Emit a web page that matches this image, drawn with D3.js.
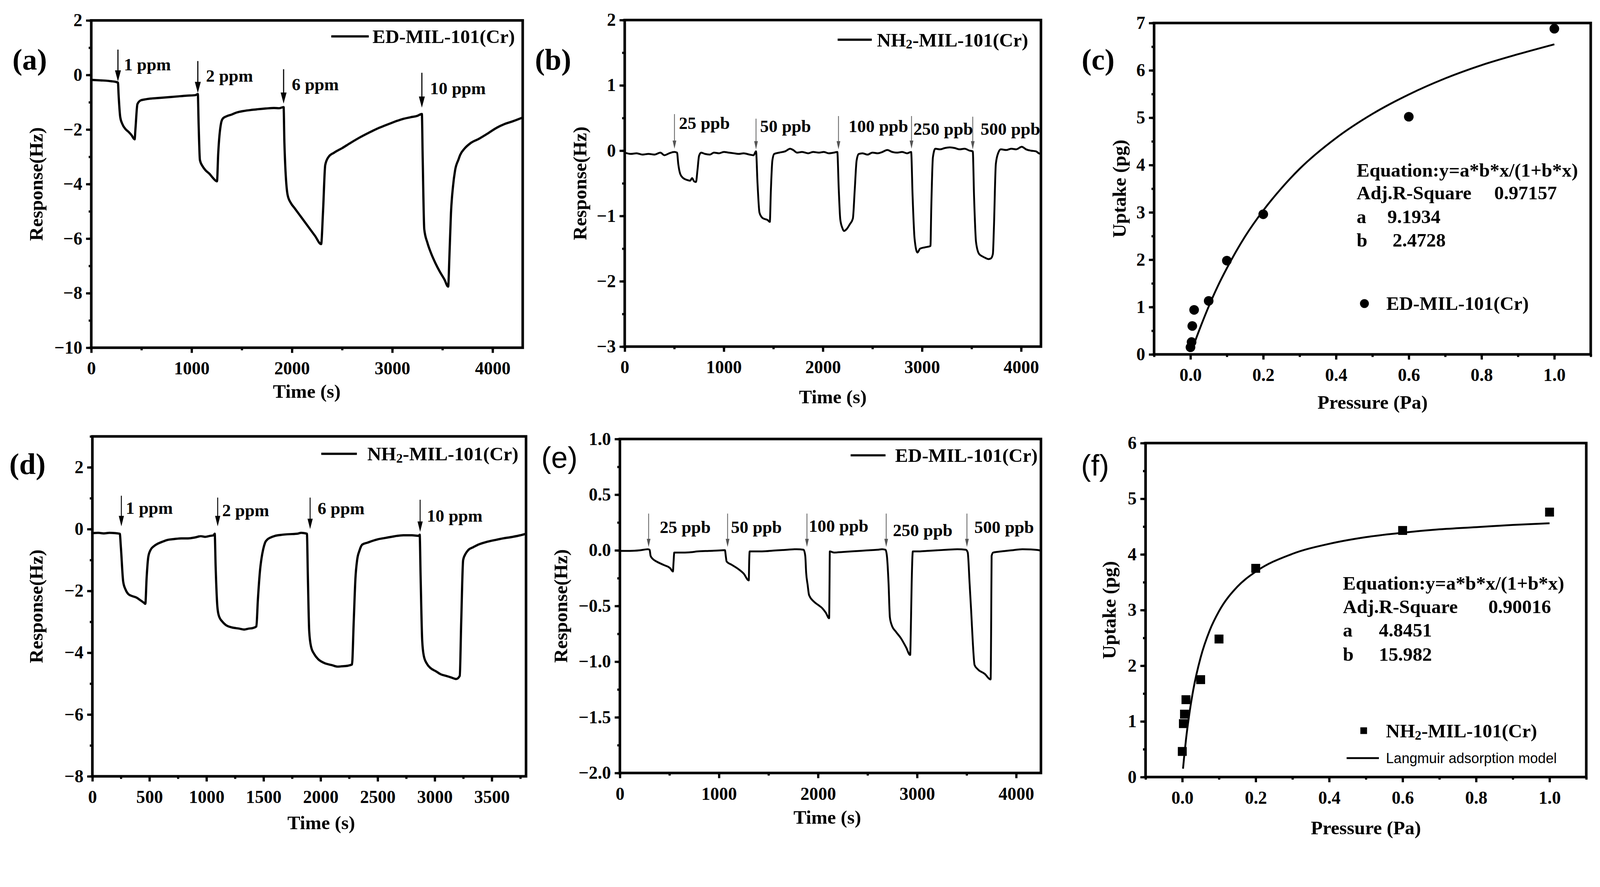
<!DOCTYPE html>
<html>
<head>
<meta charset="utf-8">
<script src="https://cdn.jsdelivr.net/npm/d3@7"></script>
<style>
  html, body { margin: 0; padding: 0; background: #fff; overflow: hidden; }
  svg { display: block; width: 100vw; height: auto; }
</style>
</head>
<body>
<svg id="fig"></svg>
<script>
// (a) ED-MIL-101(Cr), 1-10 ppm
var aTime = [0,50,100,150,200,240,266,272,289,310,340,370,400,432,440,460,494,530,562,650,750,850,950,1038,1062,
  1070,1083,1110,1140,1180,1209,1253,1265,1294,1311,1345,1400,1447,1520,1600,1651,1740,1821,1870,1917,
  1925,1957,1990,2026,2090,2162,2230,2291,2310,2332,2366,2420,2502,2580,2672,2760,2843,2930,3013,3100,3183,3250,3295,
  3303,3319,3350,3387,3430,3472,3520,3557,3570,3585,3605,3626,3660,3677,3720,3780,3864,3950,4034,4120,4200,4306];
var aResp = [-0.18,-0.19,-0.2,-0.21,-0.23,-0.25,-0.28,-0.7,-1.55,-1.8,-1.98,-2.08,-2.2,-2.36,-2.0,-1.07,-0.93,-0.9,-0.88,-0.85,-0.82,-0.79,-0.76,-0.74,-0.7,
  -1.8,-3.12,-3.35,-3.5,-3.63,-3.76,-3.9,-2.9,-1.76,-1.6,-1.52,-1.45,-1.38,-1.32,-1.28,-1.26,-1.23,-1.21,-1.22,-1.18,
  -2.5,-4.4,-4.7,-4.88,-5.2,-5.56,-5.9,-6.2,-5.0,-3.3,-3.0,-2.85,-2.68,-2.5,-2.3,-2.13,-1.98,-1.85,-1.73,-1.62,-1.55,-1.5,-1.43,
  -3.0,-5.66,-6.15,-6.54,-6.9,-7.2,-7.5,-7.76,-6.6,-5.07,-4.1,-3.5,-3.1,-2.93,-2.7,-2.5,-2.34,-2.15,-1.95,-1.8,-1.7,-1.55];
var aArrowTime = [266, 1062, 1917, 3295];
var aArrowTop = [0.93, 0.51, 0.21, 0.08];
var aArrowTip = [-0.24, -0.66, -1.05, -1.2];
var aLabels = ["1 ppm", "2 ppm", "6 ppm", "10 ppm"];
var aLabelY = [0.39, -0.03, -0.34, -0.49];

// (b) NH2-MIL-101(Cr), 25-500 ppb
var bTime = [0,60,120,180,240,300,360,400,450,500,528,540,561,590,632,660,680,700,719,734,750,771,
  810,860,900,950,1000,1050,1100,1150,1200,1260,1300,1325,1340,1360,1390,1420,1440,1464,1475,1490,1509,
  1560,1620,1670,1700,1740,1790,1850,1900,1960,2010,2060,2110,2145,2160,2175,2195,2212,2240,2270,2302,2321,2340,2362,
  2400,2450,2500,2550,2600,2650,2700,2750,2800,2850,2890,2905,2925,2954,2980,3030,3085,3093,3110,3134,
  3180,3230,3280,3330,3380,3430,3480,3512,3525,3545,3575,3610,3636,3670,3695,3715,3725,3745,3770,3796,
  3850,3900,3950,4006,4050,4100,4150,4178,4200];
var bResp = [-0.03,-0.05,-0.04,-0.06,-0.05,-0.06,-0.03,-0.07,-0.04,-0.02,-0.03,-0.2,-0.36,-0.42,-0.45,-0.46,-0.42,-0.47,-0.48,-0.3,-0.08,-0.03,
  -0.05,-0.06,-0.03,-0.04,-0.02,-0.03,-0.04,-0.05,-0.04,-0.06,-0.07,-0.01,-0.5,-0.95,-1.03,-1.05,-1.06,-1.09,-0.6,-0.15,-0.05,
  -0.03,-0.01,0.03,0.01,-0.03,-0.02,-0.04,-0.02,-0.03,-0.02,-0.04,-0.03,-0.02,-0.6,-1.05,-1.18,-1.23,-1.2,-1.13,-1.04,-0.6,-0.15,-0.05,
  -0.04,-0.06,-0.03,-0.04,-0.02,0.01,-0.02,-0.03,-0.02,-0.04,-0.02,-0.7,-1.35,-1.56,-1.5,-1.48,-1.46,-0.9,-0.1,0.03,
  0.02,0.04,0.05,0.04,0.02,0.03,0.0,-0.01,-0.7,-1.4,-1.58,-1.62,-1.64,-1.66,-1.65,-1.58,-1.2,-0.2,-0.03,0.02,
  0.01,0.03,0.02,0.06,0.02,0.0,-0.01,-0.04,-0.05];
var bArrowTime = [502, 1325, 2157, 2894, 3512];
var bArrowTop = [0.56, 0.49, 0.53, 0.53, 0.52];
var bArrowTip = [0.03, 0.02, 0.02, 0.03, 0.02];
var bLabels = ["25 ppb", "50 ppb", "100 ppb", "250 ppb", "500 ppb"];
var bLabelY = [0.42, 0.375, 0.375, 0.335, 0.335];
var bLabelShift = [12, 11, 27, 5, 21];

// (c) ED-MIL-101(Cr) uptake and Langmuir fit
var cPressure = [0.0, 0.003, 0.005, 0.01, 0.05, 0.1, 0.2, 0.6, 1.0];
var cUptake = [0.15, 0.26, 0.6, 0.94, 1.13, 1.98, 2.96, 5.02, 6.88];
var cFitP = [0.005,0.01,0.02,0.03,0.05,0.075,0.1,0.15,0.2,0.25,0.3,0.4,0.5,0.6,0.7,0.8,0.9,1.0];
var cFitU = [0.11,0.22,0.43,0.63,1.01,1.44,1.82,2.49,3.04,3.51,3.92,4.57,5.08,5.49,5.83,6.11,6.34,6.55];
var cFitText = ["Equation:y=a*b*x/(1+b*x)", "Adj.R-Square", "a", "b"];
var cFitValues = ["", "0.97157", "9.1934", "2.4728"];

// (d) NH2-MIL-101(Cr), 1-10 ppm
var dTime = [0,50,100,150,200,240,250,270,290,314,350,389,420,450,464,475,490,509,540,569,620,659,720,780,838,900,950,988,1030,1063,1072,
  1080,1095,1108,1140,1168,1220,1287,1330,1370,1407,1437,1450,1470,1482,1497,1512,1535,1557,1600,1647,1700,1750,1796,1830,1856,1880,
  1888,1900,1916,1945,1976,2030,2096,2150,2186,2240,2275,2290,2305,2320,2340,2365,2410,2455,2500,2545,2620,2725,2800,2860,2868,
  2876,2890,2904,2930,2964,3010,3054,3100,3144,3189,3219,3232,3249,3270,3293,3340,3383,3450,3533,3600,3683,3750,3800];
var dResp = [-0.13,-0.12,-0.14,-0.12,-0.13,-0.15,-0.6,-1.7,-1.95,-2.1,-2.17,-2.22,-2.3,-2.38,-2.42,-1.6,-0.9,-0.68,-0.55,-0.48,-0.4,-0.35,-0.32,-0.3,-0.3,-0.27,-0.23,-0.25,-0.22,-0.2,-0.15,
  -1.2,-2.5,-2.8,-3.0,-3.1,-3.18,-3.22,-3.25,-3.22,-3.2,-3.15,-2.3,-1.3,-0.95,-0.65,-0.45,-0.33,-0.28,-0.22,-0.19,-0.17,-0.16,-0.15,-0.12,-0.13,-0.15,
  -1.5,-3.3,-3.8,-4.05,-4.2,-4.33,-4.4,-4.45,-4.44,-4.42,-4.38,-3.0,-1.6,-1.0,-0.7,-0.5,-0.44,-0.38,-0.33,-0.3,-0.25,-0.2,-0.2,-0.22,-0.18,
  -1.5,-3.6,-4.1,-4.35,-4.5,-4.6,-4.7,-4.75,-4.8,-4.85,-4.75,-3.0,-1.0,-0.8,-0.68,-0.58,-0.5,-0.42,-0.35,-0.3,-0.25,-0.2,-0.15];
var dArrowTime = [254, 1098, 1908, 2872];
var dArrowTop = [1.08, 1.02, 1.02, 0.95];
var dArrowTip = [0.09, 0.09, 0.0, -0.09];
var dLabels = ["1 ppm", "2 ppm", "6 ppm", "10 ppm"];
var dLabelY = [0.69, 0.61, 0.67, 0.43];
var dLabelShift = [12, 12, 20, 18];

// (e) ED-MIL-101(Cr), 25-500 ppb
var eTime = [0,100,200,283,300,310,335,369,438,507,535,542,549,611,700,784,900,1025,1060,
  1070,1077,1129,1198,1250,1301,1305,1310,1400,1474,1560,1647,1785,1854,
  1871,1880,1895,1909,1957,2000,2043,2078,2112,2116,2119,2164,2250,2336,2420,2509,2600,2647,2681,
  2695,2712,2725,2743,2785,2837,2888,2930,2937,2945,2957,3020,3100,3199,3300,3406,3492,
  3511,3530,3546,3563,3580,3614,3683,3742,3748,3752,3769,3850,3950,4063,4150,4236,4250];
var eResp = [-0.005,-0.005,0.0,0.01,0.005,-0.05,-0.08,-0.1,-0.13,-0.16,-0.19,-0.1,-0.02,-0.02,-0.018,-0.01,-0.005,0.0,0.002,
  -0.06,-0.1,-0.13,-0.17,-0.21,-0.27,-0.1,-0.01,-0.01,-0.008,-0.002,0.003,0.01,0.005,
  -0.05,-0.2,-0.31,-0.4,-0.46,-0.49,-0.52,-0.56,-0.61,-0.3,-0.01,-0.02,-0.015,-0.01,-0.005,0.0,0.005,0.01,0.005,
  -0.05,-0.3,-0.6,-0.67,-0.73,-0.79,-0.87,-0.94,-0.69,-0.3,-0.01,-0.01,-0.005,0.0,0.005,0.01,0.005,
  -0.02,-0.3,-0.55,-0.84,-1.03,-1.07,-1.11,-1.16,-0.6,-0.05,-0.02,-0.01,0.0,0.01,0.008,0.0,-0.01];
var eArrowTime = [290, 1087, 1888, 2688, 3503];
var eArrowTop = [0.33, 0.33, 0.33, 0.33, 0.33];
var eArrowTip = [0.03, 0.03, 0.03, 0.03, 0.03];
var eLabels = ["25 ppb", "50 ppb", "100 ppb", "250 ppb", "500 ppb"];
var eLabelY = [0.21, 0.21, 0.22, 0.18, 0.21];
var eLabelShift = [30, 9, 5, 18, 20];

// (f) NH2-MIL-101(Cr) uptake and Langmuir fit
var fPressure = [0.0, 0.003, 0.006, 0.01, 0.05, 0.1, 0.2, 0.6, 1.0];
var fUptake = [0.46, 0.96, 1.13, 1.39, 1.75, 2.48, 3.75, 4.43, 4.76];
var fFitP = [0.002,0.005,0.01,0.02,0.03,0.05,0.075,0.1,0.15,0.2,0.3,0.4,0.5,0.6,0.7,0.8,0.9,1.0];
var fFitU = [0.15,0.36,0.67,1.17,1.57,2.15,2.64,2.98,3.42,3.69,4.01,4.19,4.31,4.39,4.45,4.49,4.53,4.56];
var fFitText = ["Equation:y=a*b*x/(1+b*x)", "Adj.R-Square", "a", "b"];
var fFitValues = ["", "0.90016", "4.8451", "15.982"];

var W = 4313, H = 2270;
var SERIF = "'Liberation Serif', 'Times New Roman', serif";
var SANS = "'Liberation Sans', Arial, sans-serif";

// drawn in 4313x2270 units, scaled to the page width, pinned to the top
var svg = d3.select("#fig").attr("viewBox", "0 0 " + W + " " + H)
  .attr("preserveAspectRatio", "xMidYMin meet");
svg.append("rect").attr("width", W).attr("height", H).attr("fill", "#fff");

function tickRange(lo, hi, step) {
  return d3.range(Math.ceil(lo / step - 1e-9), Math.floor(hi / step + 1e-9) + 1)
    .map(function(i) { return +(i * step).toFixed(6); });
}

function panel(p) {
  var x = d3.scaleLinear().domain(p.xd).range([p.l, p.r]);
  var y = d3.scaleLinear().domain(p.yd).range([p.b, p.t]);
  var g = svg.append("g");

  // minor ticks
  g.append("g").attr("transform", "translate(0," + p.b + ")")
    .call(d3.axisBottom(x).tickValues(tickRange(p.xd[0], p.xd[1], p.xm)).tickSize(7).tickFormat(""))
    .call(function(s) { s.select(".domain").remove(); s.selectAll("line").attr("stroke-width", 6); });
  g.append("g").attr("transform", "translate(" + p.l + ",0)")
    .call(d3.axisLeft(y).tickValues(tickRange(p.yd[0], p.yd[1], p.ym)).tickSize(7).tickFormat(""))
    .call(function(s) { s.select(".domain").remove(); s.selectAll("line").attr("stroke-width", 6); });

  // major ticks + labels
  g.append("g").attr("transform", "translate(0," + p.b + ")")
    .call(d3.axisBottom(x).tickValues(p.xticks).tickSize(14).tickPadding(24).tickFormat(p.xf))
    .call(function(s) {
      s.select(".domain").remove();
      s.selectAll("line").attr("stroke-width", 6);
      s.selectAll("text").attr("font-family", SERIF).attr("font-weight", "bold")
        .attr("font-size", 48).attr("fill", "#000");
    });
  g.append("g").attr("transform", "translate(" + p.l + ",0)")
    .call(d3.axisLeft(y).tickValues(p.yticks).tickSize(14).tickPadding(10).tickFormat(p.yf))
    .call(function(s) {
      s.select(".domain").remove();
      s.selectAll("line").attr("stroke-width", 6);
      s.selectAll("text").attr("font-family", SERIF).attr("font-weight", "bold")
        .attr("font-size", 48).attr("fill", "#000");
    });

  // frame
  g.append("rect").attr("x", p.l).attr("y", p.t).attr("width", p.r - p.l).attr("height", p.b - p.t)
    .attr("fill", "none").attr("stroke", "#000").attr("stroke-width", 7);

  // axis titles
  g.append("text").attr("x", p.xtx).attr("y", p.xty)
    .attr("text-anchor", "middle").attr("dominant-baseline", "central")
    .attr("font-family", SERIF).attr("font-weight", "bold").attr("font-size", 52)
    .text(p.xtitle);
  g.append("text").attr("transform", "translate(" + p.ytx + "," + ((p.t + p.b) / 2) + ") rotate(-90)")
    .attr("text-anchor", "middle").attr("dominant-baseline", "central")
    .attr("font-family", SERIF).attr("font-weight", "bold").attr("font-size", 52)
    .text(p.ytitle);

  // panel letter
  g.append("text").attr("x", p.lx).attr("y", p.ly)
    .attr("text-anchor", "middle").attr("dominant-baseline", "central")
    .attr("font-family", p.lsans ? SANS : SERIF).attr("font-weight", p.lsans ? "normal" : "bold")
    .attr("font-size", 80).text(p.letter);

  return { g: g, x: x, y: y };
}

function nameText(sel, nh2, size) {
  if (nh2) {
    sel.append("tspan").text("NH");
    sel.append("tspan").attr("font-size", size * 0.68).attr("dy", size * 0.22).text("2");
    sel.append("tspan").attr("dy", -size * 0.22).text("-MIL-101(Cr)");
  } else {
    sel.text("ED-MIL-101(Cr)");
  }
}

function lineLegend(g, x1, x2, yy, tx, nh2) {
  g.append("line").attr("x1", x1).attr("x2", x2).attr("y1", yy).attr("y2", yy)
    .attr("stroke", "#000").attr("stroke-width", 6);
  var t = g.append("text").attr("x", tx).attr("y", yy).attr("dominant-baseline", "central")
    .attr("font-family", SERIF).attr("font-weight", "bold").attr("font-size", 52);
  nameText(t, nh2, 52);
}

function trace(P, xs, ys, width) {
  var pts = xs.map(function(d, i) { return [d, ys[i]]; });
  P.g.append("path").datum(pts)
    .attr("fill", "none").attr("stroke", "#000").attr("stroke-width", width)
    .attr("stroke-linejoin", "round")
    .attr("d", d3.line().x(function(d) { return P.x(d[0]); }).y(function(d) { return P.y(d[1]); })
      .curve(d3.curveMonotoneX));
}

function arrows(P, xs, tops, tips, labels, labelY, shift, style) {
  xs.forEach(function(t, i) {
    var ax = P.x(t), y0 = P.y(tops[i]), y1 = P.y(tips[i]);
    P.g.append("line").attr("x1", ax).attr("x2", ax).attr("y1", y0).attr("y2", y1 - style.head + 2)
      .attr("stroke", style.color).attr("stroke-width", style.w);
    P.g.append("path")
      .attr("d", "M" + (ax - style.hw) + "," + (y1 - style.head) + "L" + (ax + style.hw) + "," + (y1 - style.head) + "L" + ax + "," + y1 + "Z")
      .attr("fill", style.color);
    P.g.append("text").attr("x", ax + shift[i]).attr("y", P.y(labelY[i]))
      .attr("dominant-baseline", "central")
      .attr("font-family", SERIF).attr("font-weight", "bold").attr("font-size", 47)
      .text(labels[i]);
  });
}

function fitBlock(g, x0, ys, texts, values, vx) {
  texts.forEach(function(s, i) {
    g.append("text").attr("x", x0).attr("y", ys[i]).attr("dominant-baseline", "central")
      .attr("font-family", SERIF).attr("font-weight", "bold").attr("font-size", 52).text(s);
    if (values[i]) {
      g.append("text").attr("x", vx[i]).attr("y", ys[i]).attr("dominant-baseline", "central")
        .attr("font-family", SERIF).attr("font-weight", "bold").attr("font-size", 52).text(values[i]);
    }
  });
}

var fInt = d3.format("d"), f1 = d3.format(".1f");
var bigArrow = { color: "#000", w: 3, head: 30, hw: 8 };
var thinArrow = { color: "#555", w: 2, head: 22, hw: 5 };

// (a)
var A = panel({ l: 246, r: 1409, t: 55, b: 937, xd: [0, 4300], yd: [-10, 2],
  xticks: [0, 1000, 2000, 3000, 4000], xm: 500, yticks: tickRange(-10, 2, 2), ym: 1, xf: fInt, yf: fInt,
  xtitle: "Time (s)", ytitle: "Response(Hz)", xtx: 827, xty: 1055, ytx: 97,
  letter: "(a)", lx: 80, ly: 160 });
trace(A, aTime, aResp, 6);
arrows(A, aArrowTime, aArrowTop, aArrowTip, aLabels, aLabelY, [16, 22, 22, 22], bigArrow);
lineLegend(A.g, 893, 994, 98, 1004, false);

// (b)
var B = panel({ l: 1684, r: 2806, t: 54, b: 934, xd: [0, 4200], yd: [-3, 2],
  xticks: [0, 1000, 2000, 3000, 4000], xm: 500, yticks: tickRange(-3, 2, 1), ym: 0.5, xf: fInt, yf: fInt,
  xtitle: "Time (s)", ytitle: "Response(Hz)", xtx: 2245, xty: 1069, ytx: 1563,
  letter: "(b)", lx: 1491, ly: 160 });
trace(B, bTime, bResp, 5);
arrows(B, bArrowTime, bArrowTop, bArrowTip, bLabels, bLabelY, bLabelShift, thinArrow);
lineLegend(B.g, 2258, 2350, 107, 2364, true);

// (c)
var C = panel({ l: 3111, r: 4288, t: 62, b: 955, xd: [-0.1, 1.1], yd: [0, 7],
  xticks: tickRange(0, 1, 0.2), xm: 0.1, yticks: tickRange(0, 7, 1), ym: 0.5, xf: f1, yf: fInt,
  xtitle: "Pressure (Pa)", ytitle: "Uptake (pg)", xtx: 3700, xty: 1084, ytx: 3017,
  letter: "(c)", lx: 2960, ly: 160 });
trace(C, cFitP, cFitU, 5);
C.g.selectAll("circle.pt").data(cPressure).enter().append("circle").attr("class", "pt")
  .attr("cx", function(d) { return C.x(d); })
  .attr("cy", function(d, i) { return C.y(cUptake[i]); })
  .attr("r", 13).attr("fill", "#000");
fitBlock(C.g, 3657, [459, 520, 584, 647], cFitText, cFitValues, [0, 4028, 3740, 3754]);
C.g.append("circle").attr("cx", 3678).attr("cy", 818).attr("r", 12).attr("fill", "#000");
C.g.append("text").attr("x", 3737).attr("y", 818).attr("dominant-baseline", "central")
  .attr("font-family", SERIF).attr("font-weight", "bold").attr("font-size", 52).text("ED-MIL-101(Cr)");

// (d)
var D = panel({ l: 249, r: 1418, t: 1176, b: 2092, xd: [0, 3800], yd: [-8, 3],
  xticks: tickRange(0, 3500, 500), xm: 250, yticks: tickRange(-8, 2, 2), ym: 1, xf: fInt, yf: fInt,
  xtitle: "Time (s)", ytitle: "Response(Hz)", xtx: 866, xty: 2217, ytx: 97,
  letter: "(d)", lx: 74, ly: 1250 });
trace(D, dTime, dResp, 6);
arrows(D, dArrowTime, dArrowTop, dArrowTip, dLabels, dLabelY, dLabelShift, { color: "#000", w: 2.5, head: 28, hw: 7 });
lineLegend(D.g, 866, 962, 1223, 990, true);

// (e)
var E = panel({ l: 1671, r: 2806, t: 1183, b: 2083, xd: [0, 4250], yd: [-2, 1],
  xticks: [0, 1000, 2000, 3000, 4000], xm: 500, yticks: tickRange(-2, 1, 0.5), ym: 0.25, xf: fInt, yf: f1,
  xtitle: "Time (s)", ytitle: "Response(Hz)", xtx: 2230, xty: 2202, ytx: 1512,
  letter: "(e)", lx: 1508, ly: 1232, lsans: true });
trace(E, eTime, eResp, 5);
arrows(E, eArrowTime, eArrowTop, eArrowTip, eLabels, eLabelY, eLabelShift, thinArrow);
lineLegend(E.g, 2293, 2387, 1227, 2413, false);

// (f)
var F = panel({ l: 3088, r: 4276, t: 1194, b: 2094, xd: [-0.1, 1.1], yd: [0, 6],
  xticks: tickRange(0, 1, 0.2), xm: 0.1, yticks: tickRange(0, 6, 1), ym: 0.5, xf: f1, yf: fInt,
  xtitle: "Pressure (Pa)", ytitle: "Uptake (pg)", xtx: 3682, xty: 2231, ytx: 2990,
  letter: "(f)", lx: 2952, ly: 1254, lsans: true });
trace(F, fFitP, fFitU, 5);
F.g.selectAll("rect.pt").data(fPressure).enter().append("rect").attr("class", "pt")
  .attr("x", function(d) { return F.x(d) - 12; })
  .attr("y", function(d, i) { return F.y(fUptake[i]) - 12; })
  .attr("width", 24).attr("height", 24).attr("fill", "#000");
fitBlock(F.g, 3620, [1572, 1635, 1698, 1763], fFitText, fFitValues, [0, 4012, 3717, 3717]);
F.g.append("rect").attr("x", 3667).attr("y", 1960).attr("width", 18).attr("height", 18).attr("fill", "#000");
var ft = F.g.append("text").attr("x", 3736).attr("y", 1969).attr("dominant-baseline", "central")
  .attr("font-family", SERIF).attr("font-weight", "bold").attr("font-size", 52);
nameText(ft, true, 52);
F.g.append("line").attr("x1", 3630).attr("x2", 3717).attr("y1", 2043).attr("y2", 2043)
  .attr("stroke", "#000").attr("stroke-width", 5);
F.g.append("text").attr("x", 3736).attr("y", 2043).attr("dominant-baseline", "central")
  .attr("font-family", SANS).attr("font-size", 38).text("Langmuir adsorption model");
</script>
</body>
</html>
